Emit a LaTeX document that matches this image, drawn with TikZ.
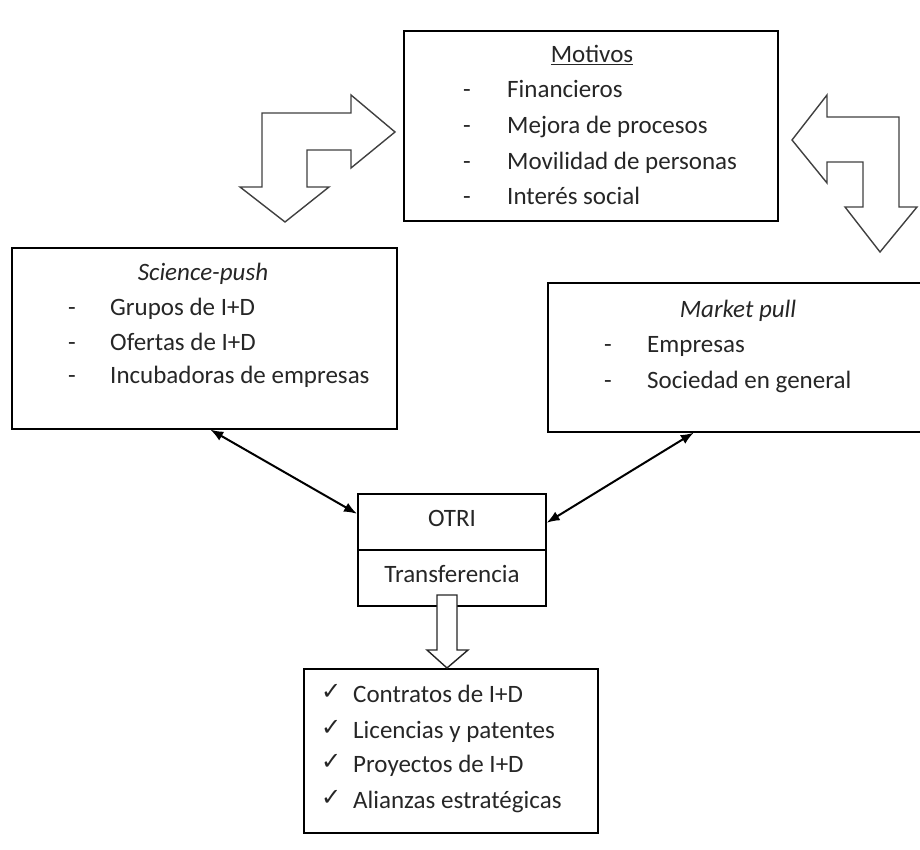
\documentclass[tikz,border=0pt]{standalone}
\usepackage{fontspec}
\setmainfont{Carlito}
\newfontfamily\symfont{DejaVu Sans}
\usetikzlibrary{arrows.meta}
\begin{document}
\begin{tikzpicture}[x=1pt,y=-1pt,
  box/.style={draw, line width=1.6pt, inner sep=0pt, anchor=north west},
  txt/.style={inner sep=0pt, anchor=base west, text=black!85, font=\fontsize{25}{30}\selectfont},
  ctr/.style={inner sep=0pt, anchor=base, text=black!85, font=\fontsize{25}{30}\selectfont},
  ttl/.style={ctr, font=\fontsize{25}{30}\selectfont\itshape},
  chk/.style={inner sep=0pt, anchor=base west, text=black!85, font=\fontsize{24}{28}\symfont},
  bigarrow/.style={draw=black!75, line width=1.4pt, fill=white, line join=miter},
  link/.style={line width=2pt, {Latex[length=13pt,width=10pt]}-{Latex[length=13pt,width=10pt]}}
]
\useasboundingbox (0,0) rectangle (920,850);

% boxes
\node[box, minimum width=374pt, minimum height=190pt] (mot) at (403,30) {};
\node[box, minimum width=385pt, minimum height=181pt] (sp) at (11,247) {};
\node[box, minimum width=382pt, minimum height=149pt] (mp) at (547,282) {};
\node[box, minimum width=188pt, minimum height=56pt] (otri) at (357,493) {};
\node[box, minimum width=188pt, minimum height=56pt] (tr) at (357,549) {};
\node[box, minimum width=294pt, minimum height=164pt] (res) at (303,668) {};

% Motivos
\node[ctr] (mt) at (592,63) {\underline{Motivos}};
\foreach \y/\t [count=\i] in {98/Financieros,134/Mejora de procesos,170/Movilidad de personas,205/Interés social}{
  \node[ctr] (md\i) at (467,\y) {-};
  \node[txt] (mi\i) at (507,\y) {\t};
}

% Science-push
\node[ttl] (st) at (203,280) {Science-push};
\foreach \y/\t [count=\i] in {315/Grupos de I+D,350/Ofertas de I+D,383/Incubadoras de empresas}{
  \node[ctr] (sd\i) at (72,\y) {-};
  \node[txt] (si\i) at (110,\y) {\t};
}

% Market pull
\node[ttl] (pt) at (738,317) {Market pull};
\foreach \y/\t [count=\i] in {352/Empresas,388/Sociedad en general}{
  \node[ctr] (pd\i) at (608,\y) {-};
  \node[txt] (pi\i) at (647,\y) {\t};
}

% OTRI
\node[ctr] (ot) at (452,526) {OTRI};
\node[ctr] (tt) at (452,582) {Transferencia};

% results
\foreach \y/\t [count=\i] in {702/Contratos de I+D,738/Licencias y patentes,772/Proyectos de I+D,808/Alianzas estratégicas}{
  \node[chk] (rc\i) at (321,\y-3) {✓};
  \node[txt] (ri\i) at (353,\y) {\t};
}

% links to OTRI
\draw[link] ([xshift=6pt]sp.south) -- ([yshift=8pt]otri.west);
\draw[link] ([xshift=-45pt]mp.south) -- ([yshift=-1pt]otri.east);

% bent block arrows
\draw[bigarrow] (262,113) -- (351,113) -- (351,95) -- (395,132) -- (351,168) -- (351,150)
  -- (307,150) -- (307,187) -- (329,187) -- (285,222) -- (240,187) -- (262,187) -- cycle;
\draw[bigarrow] (792,140) -- (827,95) -- (827,117) -- (899,117) -- (899,207) -- (917,207)
  -- (880,252) -- (845,207) -- (863,207) -- (863,162) -- (827,162) -- (827,183) -- cycle;

% down block arrow
\draw[bigarrow, draw=black!85] (437,595) -- (457,595) -- (457,650) -- (468,650) -- (447,668)
  -- (427,650) -- (437,650) -- cycle;
\end{tikzpicture}
\end{document}
